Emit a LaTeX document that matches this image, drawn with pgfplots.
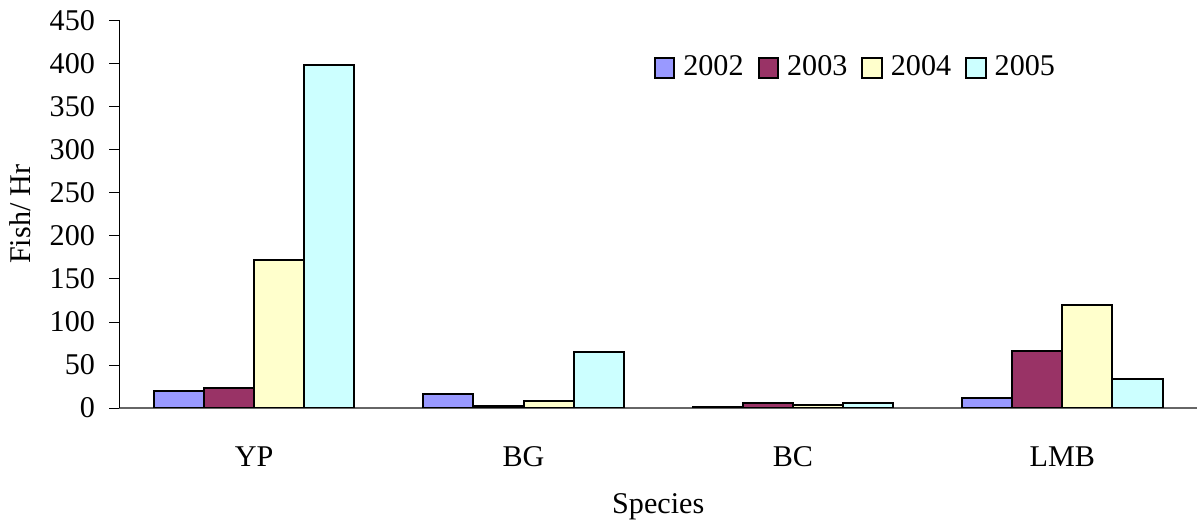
\documentclass[border=0pt]{standalone}
\usepackage{pgfplots}
\pgfplotsset{compat=1.18}
\usepackage{fontspec}
\setmainfont{Liberation Serif}
\definecolor{c02}{HTML}{9999FF}
\definecolor{c03}{HTML}{993366}
\definecolor{c04}{HTML}{FFFFCC}
\definecolor{c05}{HTML}{CCFFFF}
\begin{document}
\fontsize{15}{17}\selectfont
\begin{tikzpicture}
\begin{axis}[
    width=536.5pt, height=193pt,
    scale only axis,
    ybar=0pt,
    bar width=0.186,
    xmin=-0.5, xmax=3.5,
    ymin=0, ymax=450,
    ytick={0,50,...,450},
    xtick={0,1,2,3},
    xticklabels={YP,BG,BC,LMB},
    major x tick style={draw=none},
    extra x ticks={0.5,1.5,2.5,3.5},
    extra x tick labels={},
    extra x tick style={major tick length=5pt, tick align=outside,
        tick style={draw=gray!80!black, thick},
        xticklabel style={inner sep=0pt, outer sep=0pt}},
    xticklabel style={yshift=-9pt},
    axis x line=bottom, axis y line=left,
    x axis line style={-, draw=gray!80!black, thick},
    y axis line style={-},
    y tick style={black},
    tick align=outside,
    major tick length=5pt,
    yticklabel style={xshift=-2pt},
    /pgf/number format/assume math mode=true,
    ylabel={Fish/ Hr},
    xlabel={Species},
    ylabel style={yshift=-1pt},
    xlabel style={yshift=7pt},
    legend style={at={(0.49,0.93)}, anchor=north west, draw=none, fill=none,
        legend columns=4, font=\fontsize{15}{17}\selectfont,
        /tikz/every odd column/.append style={column sep=2pt},
        /tikz/every even column/.append style={column sep=5pt}},
    legend image code/.code={\draw[#1, line width=1pt] (0cm,-0.17cm) rectangle (0.34cm,0.17cm);},
    every axis plot/.append style={draw=black, line width=1pt},
]
\addplot[fill=c02] coordinates {(0,20) (1,15.5) (2,0.8) (3,11)};
\addplot[fill=c03] coordinates {(0,23.5) (1,2) (2,5.8) (3,66)};
\addplot[fill=c04] coordinates {(0,172) (1,8.5) (2,3.5) (3,119)};
\addplot[fill=c05] coordinates {(0,398) (1,65) (2,5.5) (3,34)};
\legend{2002,2003,2004,2005}
\end{axis}
\end{tikzpicture}
\end{document}
